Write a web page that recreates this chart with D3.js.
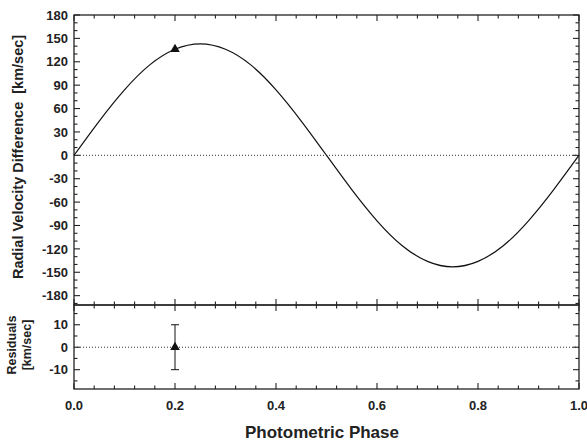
<!DOCTYPE html>
<html>
<head>
<meta charset="utf-8">
<script src="https://cdn.jsdelivr.net/npm/d3@7"></script>
<style>
  body { margin: 0; background: #fff; }
  text { font-family: "Liberation Sans", Arial, sans-serif; font-weight: bold; fill: #222; }
</style>
</head>
<body>
<svg width="587" height="447"></svg>
<script>
// model curve, every 0.05 in phase
var curvePhase = [0, 0.05, 0.1, 0.15, 0.2, 0.25, 0.3, 0.35, 0.4, 0.45, 0.5,
                  0.55, 0.6, 0.65, 0.7, 0.75, 0.8, 0.85, 0.9, 0.95, 1.0];
var curveVel = [0, 44, 84, 116, 136, 143, 136, 116, 84, 44, 0,
                -44, -84, -116, -136, -143, -136, -116, -84, -44, 0];

// observed point
var obsPhase = [0.2];
var obsVel = [136];
var obsResid = [0];
var obsErr = [10];

var xTicks = [0, 0.2, 0.4, 0.6, 0.8, 1.0];
var velTicks = [180, 150, 120, 90, 60, 30, 0, -30, -60, -90, -120, -150, -180];
var resTicks = [10, 0, -10];

var svg = d3.select("svg"),
    left = 74, right = 579,
    top1 = 15, bot1 = 305,
    top2 = 305, bot2 = 389;

var x = d3.scaleLinear().domain([0, 1]).range([left, right]);
var y = d3.scaleLinear().domain([-192, 180]).range([bot1, top1]);
var yr = d3.scaleLinear().domain([-18.6, 18.8]).range([bot2, top2]);

function frame(yScale, yt, minorStep, t, b) {
  var g = svg.append("g");
  // zero line
  g.append("line")
      .attr("x1", left).attr("x2", right)
      .attr("y1", yScale(0)).attr("y2", yScale(0))
      .attr("stroke", "#333").attr("stroke-width", 1)
      .attr("stroke-dasharray", "1,2");

  // x ticks on top and bottom, inward
  var xs = d3.range(0, 1.0001, 0.04);
  xs.forEach(function(v) {
    var major = Math.abs(v / 0.2 - Math.round(v / 0.2)) < 1e-6;
    var len = major ? 6 : 3.5;
    g.append("line").attr("x1", x(v)).attr("x2", x(v)).attr("y1", t).attr("y2", t + len)
        .attr("stroke", "#222").attr("stroke-width", 1.1);
    g.append("line").attr("x1", x(v)).attr("x2", x(v)).attr("y1", b).attr("y2", b - len)
        .attr("stroke", "#222").attr("stroke-width", 1.1);
  });

  // y ticks on left and right, inward
  var d = yScale.domain();
  var ys = d3.range(Math.ceil(d[0] / minorStep) * minorStep, d[1] + 1e-6, minorStep);
  ys.forEach(function(v) {
    var major = yt.indexOf(v) >= 0;
    var len = major ? 6 : 3.5;
    g.append("line").attr("x1", left).attr("x2", left + len).attr("y1", yScale(v)).attr("y2", yScale(v))
        .attr("stroke", "#222").attr("stroke-width", 1.1);
    g.append("line").attr("x1", right).attr("x2", right - len).attr("y1", yScale(v)).attr("y2", yScale(v))
        .attr("stroke", "#222").attr("stroke-width", 1.1);
  });

  g.selectAll("text.yl")
    .data(yt)
    .enter().append("text")
      .attr("x", left - 6)
      .attr("y", function(d) { return yScale(d); })
      .attr("dy", "0.36em")
      .attr("text-anchor", "end")
      .style("font-size", "13px")
      .text(function(d) { return d; });

  g.append("rect")
      .attr("x", left).attr("y", t)
      .attr("width", right - left).attr("height", b - t)
      .attr("fill", "none").attr("stroke", "#222").attr("stroke-width", 1.3);
}

frame(y, velTicks, 10, top1, bot1);
frame(yr, resTicks, 5, top2, bot2);

// curve
var line = d3.line()
    .x(function(d, i) { return x(curvePhase[i]); })
    .y(function(d) { return y(d); })
    .curve(d3.curveNatural);

svg.append("path")
    .datum(curveVel)
    .attr("d", line)
    .attr("fill", "none")
    .attr("stroke", "#111")
    .attr("stroke-width", 1.2);

var tri = d3.symbol().type(d3.symbolTriangle).size(40);

svg.selectAll("path.obs")
  .data(obsPhase)
  .enter().append("path")
    .attr("d", tri)
    .attr("transform", function(d, i) { return "translate(" + x(d) + "," + y(obsVel[i]) + ")"; })
    .attr("fill", "#111");

// residual error bars
obsPhase.forEach(function(p, i) {
  var cx = x(p);
  var g = svg.append("g").attr("stroke", "#111").attr("stroke-width", 1);
  g.append("line").attr("x1", cx).attr("x2", cx)
      .attr("y1", yr(obsResid[i] + obsErr[i])).attr("y2", yr(obsResid[i] - obsErr[i]));
  g.append("line").attr("x1", cx - 4).attr("x2", cx + 4)
      .attr("y1", yr(obsResid[i] + obsErr[i])).attr("y2", yr(obsResid[i] + obsErr[i]));
  g.append("line").attr("x1", cx - 4).attr("x2", cx + 4)
      .attr("y1", yr(obsResid[i] - obsErr[i])).attr("y2", yr(obsResid[i] - obsErr[i]));
  svg.append("path")
      .attr("d", tri)
      .attr("transform", "translate(" + cx + "," + yr(obsResid[i]) + ")")
      .attr("fill", "#111");
});

// x tick labels
svg.selectAll("text.xl")
  .data(xTicks)
  .enter().append("text")
    .attr("x", function(d) { return x(d); })
    .attr("y", bot2 + 21)
    .attr("text-anchor", "middle")
    .style("font-size", "13px")
    .text(function(d) { return d.toFixed(1); });

svg.append("text")
    .attr("x", 322)
    .attr("y", 438)
    .attr("text-anchor", "middle")
    .style("font-size", "17px")
    .text("Photometric Phase");

svg.append("text")
    .attr("transform", "translate(23," + 157 + ") rotate(-90)")
    .attr("text-anchor", "middle")
    .style("font-size", "14.5px")
    .style("white-space", "pre")
    .text("Radial Velocity Difference  [km/sec]");

var rl = svg.append("text")
    .attr("transform", "translate(0," + 345 + ") rotate(-90)")
    .attr("text-anchor", "middle")
    .style("font-size", "12.5px");
rl.append("tspan").attr("x", 0).attr("y", 16).text("Residuals");
rl.append("tspan").attr("x", 0).attr("y", 31).text("[km/sec]");
</script>
</body>
</html>
